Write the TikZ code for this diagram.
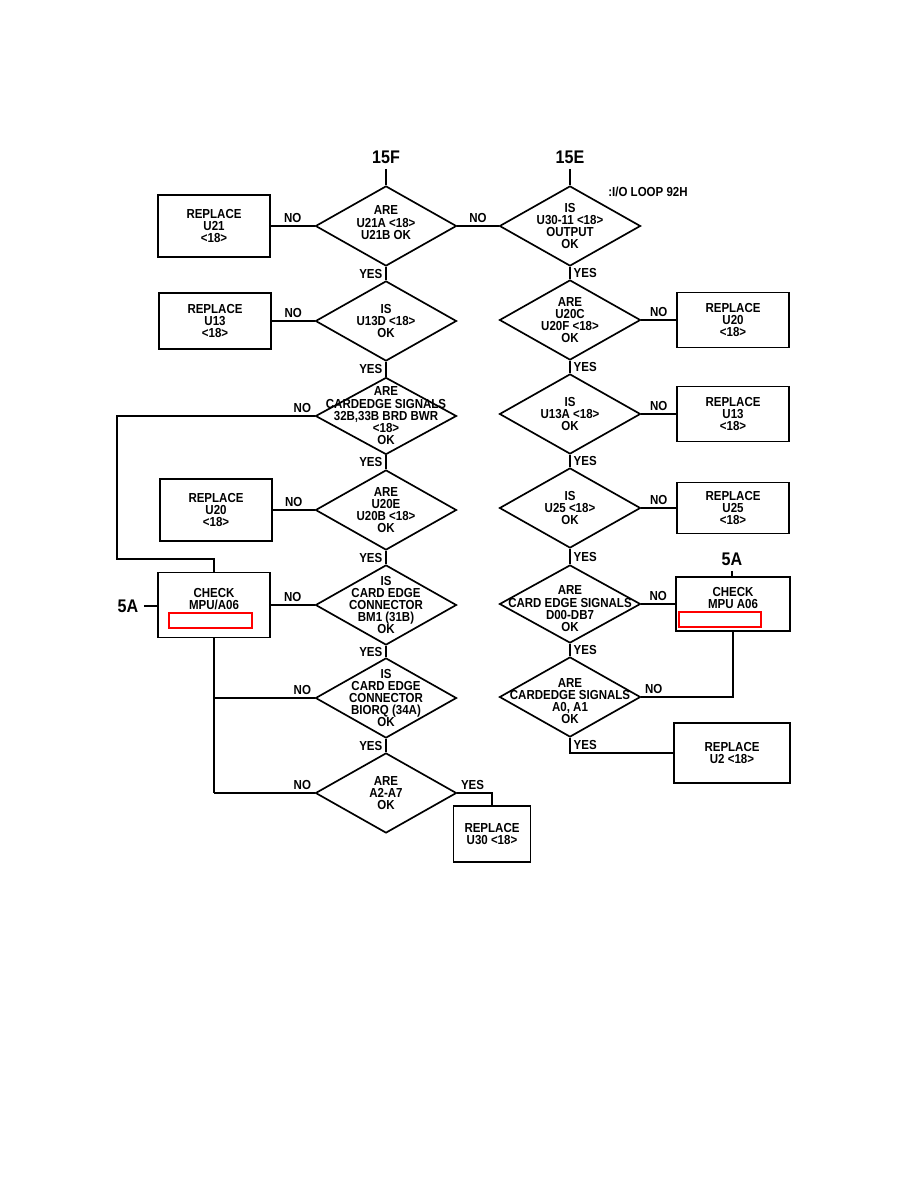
\documentclass[tikz,border=0pt]{standalone}
\usepackage{fontspec}
\setmainfont{Liberation Sans}[FakeStretch=0.88]
\usetikzlibrary{shapes.geometric}
\tikzset{
  decision/.style={draw, diamond, minimum width=3.525cm, minimum height=2cm, inner sep=0pt},
  dtext/.style={align=center},
  repl/.style={draw, rectangle, minimum width=2.8cm, minimum height=1.5cm, align=center},
  yn/.style={inner sep=2pt},
  tag/.style={font=\fontsize{13}{13}\selectfont\bfseries},
  redbox/.style={draw=red, line width=0.8pt}
}

\begin{document}
\begin{tikzpicture}[x=0.025cm, y=-0.025cm, line width=1.2pt, font=\fontsize{9.3}{8.7}\selectfont\bfseries]
  \useasboundingbox (0,0) rectangle (918,1188);
  % left column
  \node[tag] (f15) at (386,157) {15F};
  \node[decision, label={[dtext,yshift=0.08cm]center:{ARE\\U21A <18>\\U21B OK}}] (dL1) at (386,226) {};
  \node[repl, minimum height=1.55cm] (rU21) at (214,226) {REPLACE\\U21\\<18>};
  \node[decision, label={[dtext]center:{IS\\U13D <18>\\OK}}] (dL2) at (386,321) {};
  \node[repl, minimum height=1.4cm] (rU13) at (215,321) {REPLACE\\U13\\<18>};
  \node[decision, minimum height=1.925cm, label={[dtext]center:{ARE\\CARDEDGE SIGNALS\\32B,33B BRD BWR\\<18>\\OK}}] (dL3) at (386,416) {};
  \node[decision, label={[dtext]center:{ARE\\U20E\\U20B <18>\\OK}}] (dL4) at (386,510) {};
  \node[repl, minimum height=1.55cm] (rU20L) at (216,510) {REPLACE\\U20\\<18>};
  \node[decision, label={[dtext]center:{IS\\CARD EDGE\\CONNECTOR\\BM1 (31B)\\OK}}] (dL5) at (386,605) {};
  \node[repl, minimum height=1.62cm] (chkL) at (214,605) {CHECK\\MPU/A06\\~};
  \node[tag] (a5L) at (128,606) {5A};
  \node[decision, label={[dtext]center:{IS\\CARD EDGE\\CONNECTOR\\BIORQ (34A)\\OK}}] (dL6) at (386,698) {};
  \node[decision, label={[dtext]center:{ARE\\A2-A7\\OK}}] (dL7) at (386,793) {};
  \node[repl, minimum width=1.93cm, minimum height=1.4cm] (rU30) at (492,834) {REPLACE\\U30 <18>};
  \coordinate (bendL) at (117,559);
  % right column
  \node[tag] (e15) at (570,157) {15E};
  \node[decision, label={[dtext]center:{IS\\U30-11 <18>\\OUTPUT\\OK}}] (dR1) at (570,226) {};
  \node (loop) at (648,192) {:I/O LOOP 92H};
  \node[decision, label={[dtext]center:{ARE\\U20C\\U20F <18>\\OK}}] (dR2) at (570,320) {};
  \node[repl, minimum height=1.375cm] (rU20R) at (733,320) {REPLACE\\U20\\<18>};
  \node[decision, label={[dtext]center:{IS\\U13A <18>\\OK}}] (dR3) at (570,414) {};
  \node[repl, minimum height=1.375cm] (rU13R) at (733,414) {REPLACE\\U13\\<18>};
  \node[decision, label={[dtext]center:{IS\\U25 <18>\\OK}}] (dR4) at (570,508) {};
  \node[repl, minimum height=1.28cm] (rU25) at (733,508) {REPLACE\\U25\\<18>};
  \node[decision, minimum height=1.95cm, label={[dtext,yshift=-0.12cm]center:{ARE\\CARD EDGE SIGNALS\\D00-DB7\\OK}}] (dR5) at (570,604) {};
  \node[repl, minimum width=2.85cm, minimum height=1.35cm] (chkR) at (733,604) {CHECK\\MPU A06\\~};
  \node[tag] (a5R) at (732,559) {5A};
  \node[decision, label={[dtext,yshift=-0.1cm]center:{ARE\\CARDEDGE SIGNALS\\A0, A1\\OK}}] (dR6) at (570,697) {};
  \node[repl, minimum width=2.9cm] (rU2) at (732,753) {REPLACE\\U2 <18>};
  % red marks
  \draw[redbox] (169,613) rectangle (252,628);
  \draw[redbox] (679,612) rectangle (761,627);
  % left connectors
  \draw (f15) -- (dL1.north);
  \draw (rU21) -- node[yn, above]{NO} (dL1.west);
  \draw (dL1.east) -- node[yn, above]{NO} (dR1.west);
  \draw (dL1.south) -- node[yn, left]{YES} (dL2.north);
  \draw (rU13) -- node[yn, above]{NO} (dL2.west);
  \draw (dL2.south) -- node[yn, left]{YES} (dL3.north);
  \draw (dL3.west) -| node[yn, above left, pos=0]{NO} (bendL) -| (chkL.north);
  \draw (dL3.south) -- node[yn, left]{YES} (dL4.north);
  \draw (rU20L) -- node[yn, above]{NO} (dL4.west);
  \draw (dL4.south) -- node[yn, left]{YES} (dL5.north);
  \draw (chkL) -- node[yn, above]{NO} (dL5.west);
  \draw (a5L.east) -- (a5L.east -| chkL.west);
  \draw (dL5.south) -- node[yn, left]{YES} (dL6.north);
  \draw (chkL.south) -- (chkL.south |- dL7.west);
  \draw (dL6.west) -- node[yn, above left, pos=0]{NO} (chkL.south |- dL6.west);
  \draw (dL6.south) -- node[yn, left]{YES} (dL7.north);
  \draw (dL7.west) -- node[yn, above left, pos=0]{NO} (chkL.south |- dL7.west);
  \draw (dL7.east) -| node[yn, above right, pos=0]{YES} (rU30.north);
  % right connectors
  \draw (e15) -- (dR1.north);
  \draw (dR1.south) -- node[yn, right]{YES} (dR2.north);
  \draw (dR2.east) -- node[yn, above]{NO} (rU20R);
  \draw (dR2.south) -- node[yn, right]{YES} (dR3.north);
  \draw (dR3.east) -- node[yn, above]{NO} (rU13R);
  \draw (dR3.south) -- node[yn, right]{YES} (dR4.north);
  \draw (dR4.east) -- node[yn, above]{NO} (rU25);
  \draw (dR4.south) -- node[yn, right]{YES} (dR5.north);
  \draw (dR5.east) -- node[yn, above]{NO} (chkR);
  \draw (a5R.south) -- (a5R.south |- chkR.north);
  \draw (dR5.south) -- node[yn, right]{YES} (dR6.north);
  \draw (dR6.east) -| node[yn, above right, pos=0]{NO} (chkR.south);
  \draw (dR6.south) |- node[yn, above right, pos=0.5]{YES} (rU2.west);
\end{tikzpicture}
\end{document}
